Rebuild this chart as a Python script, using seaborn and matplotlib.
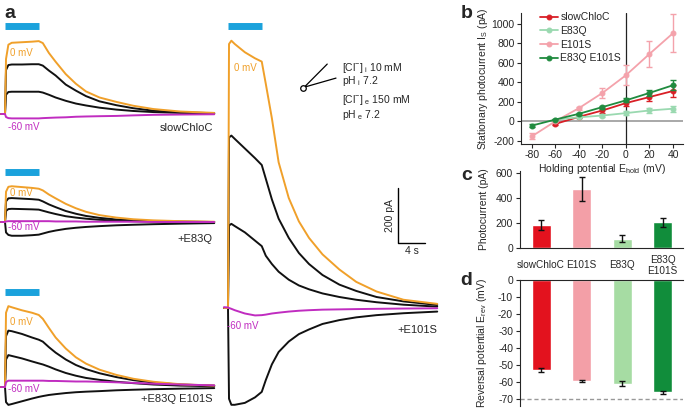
import numpy as np
import matplotlib
matplotlib.use("Agg")
import matplotlib.pyplot as plt
import seaborn as sns

sns.set_style("ticks")
plt.rcParams['font.family'] = ['Liberation Sans', 'DejaVu Sans']
plt.rcParams['mathtext.default'] = 'regular'
plt.rcParams['axes.unicode_minus'] = False

# ---- panel a: photocurrent traces (time in s, current in pA) ----
T = [-0.6, 0, 0.15, 0.5, 1, 2.5, 4, 5, 5.6, 6.5, 7.5, 9, 10.5, 12, 14, 16.5, 19, 22, 26, 31]
light_on, light_off = 0, 5

sc_0 = [0, 0, 200, 252, 259, 261, 263, 265, 258, 222, 190, 145, 110, 82, 60, 44, 30, 18, 9, 4]
sc_m20 = [0, 0, 160, 178, 180, 180, 181, 181, 176, 158, 140, 107, 85, 65, 46, 32, 21, 12, 6, 3]
sc_m40 = [0, 0, 70, 80, 81, 81, 81, 81, 78, 70, 60, 48, 38, 31, 23, 16, 11, 7, 4, 2]
sc_m60 = [0, 0, -11, -15, -16, -16, -16, -16, -15, -14, -13, -12, -10, -9, -8, -7, -5, -3, -2, -1]

q_0 = [0, 0, 110, 128, 130, 127, 124, 121, 115, 100, 86, 66, 50, 37, 25, 16, 10, 6, 3, 1]
q_m20 = [0, 0, 75, 86, 87, 85, 83, 81, 75, 64, 54, 40, 30, 22, 15, 9, 6, 3, 1, 0]
q_m40 = [0, 0, 40, 47, 48, 47, 46, 45, 41, 35, 29, 21, 16, 12, 8, 5, 3, 2, 1, 0]
q_m60 = [0, 0, 2, 3, 3, 3, 3, 3, 3, 3, 2, 2, 2, 1, 1, 1, 1, 0, 0, 0]
q_m80 = [0, 0, -38, -47, -50, -50, -48, -46, -42, -36, -31, -25, -21, -18, -15, -12, -10, -8, -6, -4]

qs_0 = [0, 0, 270, 294, 290, 279, 270, 262, 248, 215, 180, 140, 108, 85, 63, 44, 30, 19, 10, 5]
qs_m20 = [0, 0, 185, 205, 203, 193, 180, 172, 165, 145, 125, 100, 80, 65, 50, 36, 25, 16, 9, 5]
qs_m40 = [0, 0, 100, 116, 113, 104, 93, 86, 82, 74, 64, 51, 41, 33, 26, 19, 14, 9, 5, 3]
qs_m60 = [0, 0, 18, 23, 23, 23, 23, 23, 23, 22, 22, 21, 20, 20, 19, 17, 15, 12, 9, 6]
qs_m80 = [0, 0, -55, -65, -62, -52, -42, -36, -33, -29, -26, -22, -19, -17, -15, -12, -10, -8, -6, -4]

s_0 = [0, 0, 960, 972, 960, 930, 908, 896, 815, 690, 530, 400, 315, 255, 195, 140, 95, 60, 30, 15]
s_m20 = [0, 0, 620, 627, 615, 580, 545, 520, 470, 395, 325, 255, 200, 160, 120, 85, 62, 40, 24, 11]
s_m40 = [0, 0, 300, 306, 298, 275, 245, 225, 190, 160, 132, 103, 82, 68, 53, 40, 30, 21, 12, 5]
s_m60 = [3, 2, 0, -3, -8, -20, -27, -26, -24, -20, -17, -13, -10, -8, -6, -5, -4, -3, -2, -1]
s_m80 = [0, 0, -330, -352, -352, -345, -325, -305, -262, -205, -160, -122, -95, -78, -58, -44, -34, -26, -19, -13]

scale_pA, scale_s = 200, 4

# ---- panel b: I-V ----
E_hold = [-80, -60, -40, -20, 0, 20, 40]
iv_sc = [np.nan, -28, 45, 110, 186, 248, 310]
iv_sc_err = [np.nan, 12, 15, 25, 35, 45, 60]
iv_q = [np.nan, 15, 40, 58, 83, 110, 128]
iv_q_err = [np.nan, 8, 10, 15, 20, 25, 30]
iv_s = [-155, 0, 134, 290, 472, 690, 903]
iv_s_err = [30, 10, 15, 55, 100, 135, 195]
iv_qs = [-45, 17, 76, 145, 214, 290, 369]
iv_qs_err = [12, 8, 10, 15, 20, 30, 50]

# ---- panels c, d ----
constructs = ['slowChloC', 'E101S', 'E83Q', 'E83Q\nE101S']
photocurrent = [183, 470, 75, 205]
photocurrent_err = [38, 95, 28, 35]
reversal = [-52.6, -59.3, -61, -66]
reversal_err = [1.2, 0.4, 1.5, 1.0]
E_cl = -70

ORANGE = '#f0a02a'
PURPLE = '#c02cc0'
BLUE = '#1ba2dc'
bar_colors = ['#e3121e', '#f39fa7', '#a6dca3', '#118d3b']
line_colors = {'slowChloC': '#d91f26', 'E83Q': '#9ad9b0', 'E101S': '#f4a2ab', 'E83Q E101S': '#208b3f'}

W, H = 685, 409
PX_S, PX_PA = 6.75, 0.275
fig = plt.figure(figsize=(W / 100, H / 100), dpi=100)


def px_axes(l, t, r, b):
    ax = fig.add_axes([l / W, 1 - b / H, (r - l) / W, (b - t) / H])
    ax.patch.set_alpha(0)
    return ax


def trace_axes(l, t, r, b, x0, y0):
    ax = px_axes(l, t, r, b)
    ax.set_xlim((l - x0) / PX_S, (r - x0) / PX_S)
    ax.set_ylim((y0 - b) / PX_PA, (y0 - t) / PX_PA)
    ax.axis('off')
    return ax


def draw_traces(ax, on, blacks, off, neg, bar_h):
    for tr in blacks:
        sns.lineplot(x=T, y=tr, ax=ax, color='#111111', lw=1.4, sort=False)
    if neg is not None:
        sns.lineplot(x=T, y=neg, ax=ax, color='#111111', lw=1.4, sort=False)
    sns.lineplot(x=T, y=on, ax=ax, color=ORANGE, lw=1.4, sort=False)
    sns.lineplot(x=T, y=off, ax=ax, color=PURPLE, lw=1.4, sort=False)
    ax.plot([light_on, light_off], [bar_h, bar_h], color=BLUE, lw=5, solid_capstyle='butt')


tf = dict(fontsize=7)
ax1 = trace_axes(0, 18, 216, 135, 5, 114)
draw_traces(ax1, sc_0, [sc_m20, sc_m40], sc_m60, None, 320)
ax1.text(0.75, 222, '0 mV', color=ORANGE, va='center', **tf)
ax1.text(0.45, -47, '-60 mV', color=PURPLE, va='center', **tf)
ax1.text(30.8, -51, 'slowChloC', ha='right', va='center', fontsize=8)

ax2 = trace_axes(0, 160, 216, 248, 5, 222)
draw_traces(ax2, q_0, [q_m20, q_m40], q_m60, q_m80, 182)
ax2.text(0.75, 105, '0 mV', color=ORANGE, va='center', **tf)
ax2.text(0.45, -18, '-60 mV', color=PURPLE, va='center', **tf)
ax2.text(30.8, -62, '+E83Q', ha='right', va='center', fontsize=8)

ax3 = trace_axes(0, 282, 216, 409, 5, 387)
draw_traces(ax3, qs_0, [qs_m20, qs_m40], qs_m60, qs_m80, 344)
ax3.text(0.75, 236, '0 mV', color=ORANGE, va='center', **tf)
ax3.text(0.45, -7, '-60 mV', color=PURPLE, va='center', **tf)
ax3.text(30.8, -44, '+E83Q E101S', ha='right', va='center', fontsize=8)

ax4 = trace_axes(222, 18, 445, 409, 228, 308)
draw_traces(ax4, s_0, [s_m20, s_m40], s_m60, s_m80, 1024)
ax4.text(0.9, 873, '0 mV', color=ORANGE, va='center', **tf)
ax4.text(-0.15, -65, '-60 mV', color=PURPLE, va='center', **tf)
ax4.text(31, -80, '+E101S', ha='right', va='center', fontsize=8)
# scale bar
sx, sy = 25.2, 236
ax4.plot([sx, sx, sx + scale_s], [sy + scale_pA, sy, sy], color='k', lw=1)
ax4.text(sx - 1.2, sy + scale_pA / 2, f'{scale_pA} pA', rotation=90, ha='center', va='center', fontsize=7.5)
ax4.text(sx + scale_s / 2, sy - 30, f'{scale_s} s', ha='center', va='center', fontsize=7.5)
# pipette and solutions
ax4.plot([14.7, 11.3, 16.0], [887, 803, 836], color='k', lw=0.9)
ax4.plot([11.1], [800], marker='o', ms=4, mfc='white', mec='k', mew=0.9)
sol = dict(fontsize=7.5, va='center')
ax4.text(16.9, 873, '[Cl$^{-}$]$_{\\ i}$ 10 mM', **sol)
ax4.text(16.9, 826, 'pH$_{\\ i}$ 7.2', **sol)
ax4.text(16.9, 758, '[Cl$^{-}$]$_{\\ e}$ 150 mM', **sol)
ax4.text(16.9, 700, 'pH$_{\\ e}$ 7.2', **sol)

# ---- panel b ----
axb = px_axes(521, 13, 683, 144)
iv_sets = [('slowChloC', iv_sc, iv_sc_err), ('E83Q', iv_q, iv_q_err),
           ('E101S', iv_s, iv_s_err), ('E83Q E101S', iv_qs, iv_qs_err)]
axb.axhline(0, color='#999999', lw=1.2, zorder=0)
axb.axvline(0, color='#222222', lw=0.9, zorder=0)
for name, vals, errs in iv_sets:
    c = line_colors[name]
    axb.errorbar(E_hold, vals, yerr=errs, fmt='none', ecolor=c, elinewidth=1, capsize=2, capthick=1)
    sns.lineplot(x=E_hold, y=vals, ax=axb, color=c, lw=1.3, marker='o', ms=3.5, mec=c, label=name)
axb.set_xlim(-89.3, 48.5)
axb.set_ylim(-234, 1110)
axb.set_xticks([-80, -60, -40, -20, 0, 20, 40])
axb.set_yticks([-200, 0, 200, 400, 600, 800, 1000])
axb.tick_params(labelsize=7.5, length=3, width=0.8, pad=1.5)
axb.set_xlabel('Holding potential E$_{hold}$ (mV)', fontsize=7.5, labelpad=1)
axb.set_ylabel('Stationary photocurrent I$_S$ (pA)', fontsize=7.5)
axb.yaxis.set_label_coords(-0.19, 0.5)
sns.despine(ax=axb)
axb.legend(loc='upper left', bbox_to_anchor=(0.07, 1.06), frameon=False, fontsize=7.5,
           handlelength=1.8, handletextpad=0.2, labelspacing=0.35, borderpad=0.2)

# ---- panel c ----
axc = px_axes(520, 171, 683, 248)
sns.barplot(x=constructs, y=photocurrent, hue=constructs, palette=bar_colors, ax=axc,
            width=0.47, legend=False, errorbar=None, saturation=1)
axc.errorbar(range(len(constructs)), photocurrent, yerr=photocurrent_err, fmt='none',
             ecolor='#111111', elinewidth=1, capsize=2.5, capthick=1)
axc.set_xlim(-0.52, 3.5)
axc.set_ylim(0, 616)
axc.set_yticks([0, 200, 400, 600])
axc.tick_params(axis='y', labelsize=7.5, length=3, width=0.8, pad=2)
axc.tick_params(axis='x', labelsize=7.2, length=0, pad=12.5)
plt.setp(axc.get_xticklabels(), va='center')
axc.set_ylabel('Photocurrent (pA)', fontsize=7.5)
axc.yaxis.set_label_coords(-0.19, 0.5)
sns.despine(ax=axc)

# ---- panel d ----
axd = px_axes(520, 280, 683, 406)
sns.barplot(x=constructs, y=reversal, hue=constructs, palette=bar_colors, ax=axd,
            width=0.47, legend=False, errorbar=None, saturation=1)
axd.errorbar(range(len(constructs)), reversal, yerr=reversal_err, fmt='none',
             ecolor='#111111', elinewidth=1, capsize=2.5, capthick=1)
axd.axhline(E_cl, color='#999999', lw=1, ls=(0, (3, 2)))
axd.set_xlim(-0.52, 3.5)
axd.set_ylim(-74, 0)
axd.set_yticks([0, -10, -20, -30, -40, -50, -60, -70])
axd.set_xticks([])
axd.set_xlabel('')
axd.tick_params(axis='y', labelsize=7.5, length=3, width=0.8, pad=2)
axd.set_ylabel('Reversal potential E$_{rev}$ (mV)', fontsize=7.5)
axd.yaxis.set_label_coords(-0.19, 0.5)
for side in ['bottom', 'right']:
    axd.spines[side].set_visible(False)
axd.spines['top'].set_visible(True)

# panel letters
for letter, x, y in [('a', 4, 18), ('b', 461, 18), ('c', 461, 180), ('d', 460, 285)]:
    fig.text(x / W, 1 - y / H, letter, fontsize=14, fontweight='bold', va='baseline')

fig.savefig('out.png', dpi=100)
